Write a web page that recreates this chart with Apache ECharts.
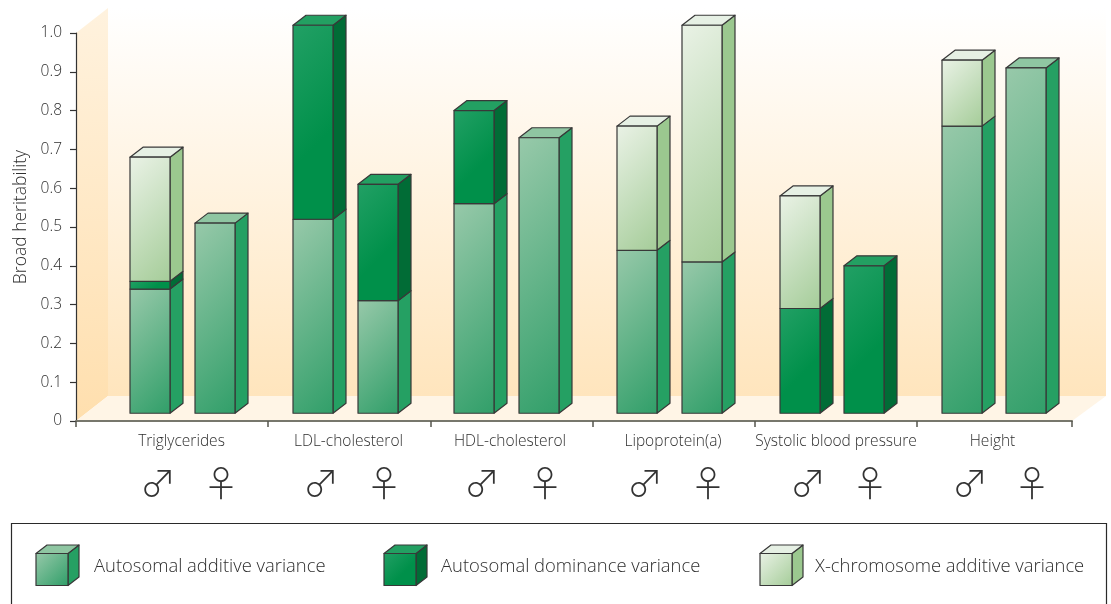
<!DOCTYPE html>
<html>
<head>
<meta charset="utf-8">
<style>html,body{margin:0;padding:0;background:#fff}#chart{width:1111px;height:604px}</style>
<script src="https://cdn.jsdelivr.net/npm/echarts@6/dist/echarts.min.js"></script>
</head>
<body>
<div id="chart"></div>
<script>
// Broad heritability by trait and sex, split into variance components.
const traits = ['Triglycerides', 'LDL-cholesterol', 'HDL-cholesterol', 'Lipoprotein(a)', 'Systolic blood pressure', 'Height'];
const sexes = ['♂', '♀'];
const componentNames = ['Autosomal additive variance', 'Autosomal dominance variance', 'X-chromosome additive variance'];

// Each pair is [male, female] for one trait, in trait order.
const additive  = [[0.34, 0.51], [0.52, 0.31], [0.56, 0.73], [0.44, 0.41], [0, 0], [0.76, 0.91]];
const dominance = [[0.02, 0], [0.50, 0.30], [0.24, 0], [0, 0], [0.29, 0.40], [0, 0]];
const xLinked   = [[0.32, 0], [0, 0], [0, 0], [0.32, 0.61], [0.29, 0], [0.17, 0]];

const yTicks = ['0', '0.1', '0.2', '0.3', '0.4', '0.5', '0.6', '0.7', '0.8', '0.9', '1.0'];

// Layout along the horizontal axis, in axis units.
const axisSpan = 996;
const barCentres = [[74, 139], [237, 302], [398, 463], [561, 626], [724, 788], [886, 950]];
const traitLabelAt = [105.5, 272.5, 434, 597, 760, 916.5];
const boundaryTicks = [0, 192, 354.5, 517, 679, 841, 996];
const barWidth = 40;
const floorLift = 0.02;   // bars stand on the floor, slightly above the zero line

const depth = { x: 13, y: 10 };
const ink = '#383838';
const textColor = '#2f2f2f';
const fontFamily = '"Open Sans", Lato, sans-serif';
const fontWeight = 300;

const palette = [
  { front: ['#98c9aa', '#2f9e68'], settle: 1, side: '#25a063', top: '#8fc6a2' },
  { front: ['#22a065', '#00904a'], settle: 0.6, side: '#016c36', top: '#23a062' },
  { front: ['#eaf2e6', '#a4cc98'], settle: 1, side: '#9bc88f', top: '#e6f0e4' }
];

// Gradient running at 45 degrees on screen, whatever the face's proportions.
const fillOf = (p, w, h) => ({
  type: 'linear', x: 0, y: 0, x2: (w + h) / (2 * w), y2: (w + h) / (2 * h),
  colorStops: [
    { offset: 0, color: p.front[0] },
    { offset: p.settle, color: p.front[1] },
    { offset: 1, color: p.front[1] }
  ]
});

function poly(points, fill, z2) {
  return {
    type: 'polygon', z2: z2 || 0,
    shape: { points },
    style: { fill, stroke: ink, lineWidth: 1.2, lineJoin: 'round' }
  };
}

// One stacked segment: front face, side face and, for the top segment, the cap.
function segmentItem(p) {
  return function (params, api) {
    const cx = api.value(0), lo = api.value(1), hi = api.value(2), capped = api.value(3);
    const a = api.coord([cx - barWidth / 2, hi]);
    const b = api.coord([cx + barWidth / 2, lo]);
    const d = depth;
    const children = [
      poly([[b[0], a[1]], [b[0] + d.x, a[1] - d.y], [b[0] + d.x, b[1] - d.y], [b[0], b[1]]], p.side),
      poly([[a[0], a[1]], [b[0], a[1]], [b[0], b[1]], [a[0], b[1]]], fillOf(p, b[0] - a[0], b[1] - a[1]), 1)
    ];
    if (capped) {
      children.push(poly([[a[0], a[1]], [a[0] + d.x, a[1] - d.y], [b[0] + d.x, a[1] - d.y], [b[0], a[1]]], p.top));
    }
    return { type: 'group', children };
  };
}

// Turn the per-component values into [x, bottom, top, capped] rows.
const components = [additive, dominance, xLinked];
const segments = components.map(() => []);
traits.forEach((_, t) => {
  sexes.forEach((_, s) => {
    let running = 0, last = 0;
    components.forEach((c, i) => { if (c[t][s] > 0) last = i; });
    components.forEach((c, i) => {
      const v = c[t][s];
      if (v > 0) {
        const bottom = running === 0 ? floorLift : running;
        running += v;
        segments[i].push([barCentres[t][s], bottom, +running.toFixed(3), i === last ? 1 : 0]);
      }
    });
  });
});

const sexMarks = [];
traits.forEach((_, t) => sexes.forEach((sx, s) => sexMarks.push([barCentres[t][s], 0, sx])));

// Room walls and floor behind the bars.
const room = [
  { type: 'rect', z: -20, shape: { x: 108, y: 8, width: 998, height: 388 },
    style: { fill: { type: 'linear', x: 0, y: 0, x2: 0, y2: 1, colorStops: [
      { offset: 0, color: '#ffffff' }, { offset: 1, color: '#ffe5bd' }] } } },
  { type: 'polygon', z: -19, shape: { points: [[76, 33], [108, 8], [108, 396], [76, 421]] },
    style: { fill: { type: 'linear', x: 0, y: 0, x2: 0, y2: 1, colorStops: [
      { offset: 0, color: '#fff2de' }, { offset: 1, color: '#ffdfae' }] } } },
  { type: 'polygon', z: -19, shape: { points: [[76, 421], [108, 396], [1106, 396], [1072, 421]] },
    style: { fill: '#fff5e6' } },
  { type: 'rect', z: -18, shape: { x: 11.5, y: 523.5, width: 1095, height: 120 },
    style: { fill: '#ffffff', stroke: '#2a2a2a', lineWidth: 1.2 } }
];

// Legend swatches and their captions.
const legendAt = [36, 384, 760];
const legendTextAt = [94, 441, 815];
const legendItems = [];
componentNames.forEach((name, i) => {
  const x = legendAt[i], y = 553.5, w = 32, dx = 11, dy = 8.5, p = palette[i];
  const face = (points, fill) => ({
    type: 'polygon', z: 5, shape: { points },
    style: { fill, stroke: ink, lineWidth: 1.2, lineJoin: 'round' }
  });
  legendItems.push(face([[x + w, y], [x + w + dx, y - dy], [x + w + dx, y + w - dy], [x + w, y + w]], p.side));
  legendItems.push(face([[x, y], [x + dx, y - dy], [x + w + dx, y - dy], [x + w, y]], p.top));
  legendItems.push(face([[x, y], [x + w, y], [x + w, y + w], [x, y + w]], fillOf(p, w, w)));
  legendItems.push({
    type: 'text', z: 5, x: legendTextAt[i], y: 567,
    style: { text: name, fill: textColor, font: fontWeight + ' 18.4px ' + fontFamily, textVerticalAlign: 'middle' }
  });
});

const chart = echarts.init(document.getElementById('chart'), null, { renderer: 'canvas' });
chart.setOption({
  animation: false,
  backgroundColor: '#ffffff',
  graphic: { elements: room.concat(legendItems) },
  grid: { left: 76, top: 33, width: axisSpan, height: 388, outerBoundsMode: 'none' },
  xAxis: {
    type: 'value', min: 0, max: axisSpan,
    splitLine: { show: false },
    axisLine: { show: true, lineStyle: { color: '#77776c', width: 2 } },
    axisTick: { show: true, customValues: boundaryTicks, length: 6, lineStyle: { color: '#55554d', width: 1.5 } },
    axisLabel: {
      customValues: traitLabelAt, margin: 13, color: textColor, fontSize: 15.5, fontWeight, fontFamily,
      formatter: (value) => traits[traitLabelAt.indexOf(value)]
    }
  },
  yAxis: {
    type: 'value', min: 0, max: 1, interval: 0.1,
    name: 'Broad heritability', nameLocation: 'middle', nameGap: 44, nameRotate: 90,
    nameTextStyle: { color: textColor, fontSize: 17.5, fontWeight, fontFamily, padding: [0, 0, 0, 20] },
    splitLine: { show: false },
    axisLine: { show: true, lineStyle: { color: '#333333', width: 1.2 } },
    axisTick: { show: true, length: 6, lineStyle: { color: '#333333', width: 1.2 } },
    axisLabel: {
      margin: 14, color: textColor, fontSize: 15.5, fontWeight, fontFamily,
      formatter: (value) => yTicks[Math.round(value * 10)]
    }
  },
  series: [
    ...componentNames.map((name, i) => ({
      name, type: 'custom', data: segments[i], encode: { x: 0, y: [1, 2] },
      renderItem: segmentItem(palette[i]), silent: true, z: 3
    })),
    {
      name: 'Sex', type: 'custom', data: sexMarks, silent: true,
      renderItem(params, api) {
        const p = api.coord([api.value(0), 0]);
        const male = sexMarks[params.dataIndex][2] === '♂';
        return {
          type: 'text', x: p[0] + (male ? 8 : 6), y: 483,
          style: {
            text: sexMarks[params.dataIndex][2], fill: '#333333',
            font: '300 36px "Noto Sans CJK SC"', textAlign: 'center', textVerticalAlign: 'middle'
          }
        };
      }
    }
  ]
});
</script>
</body>
</html>
